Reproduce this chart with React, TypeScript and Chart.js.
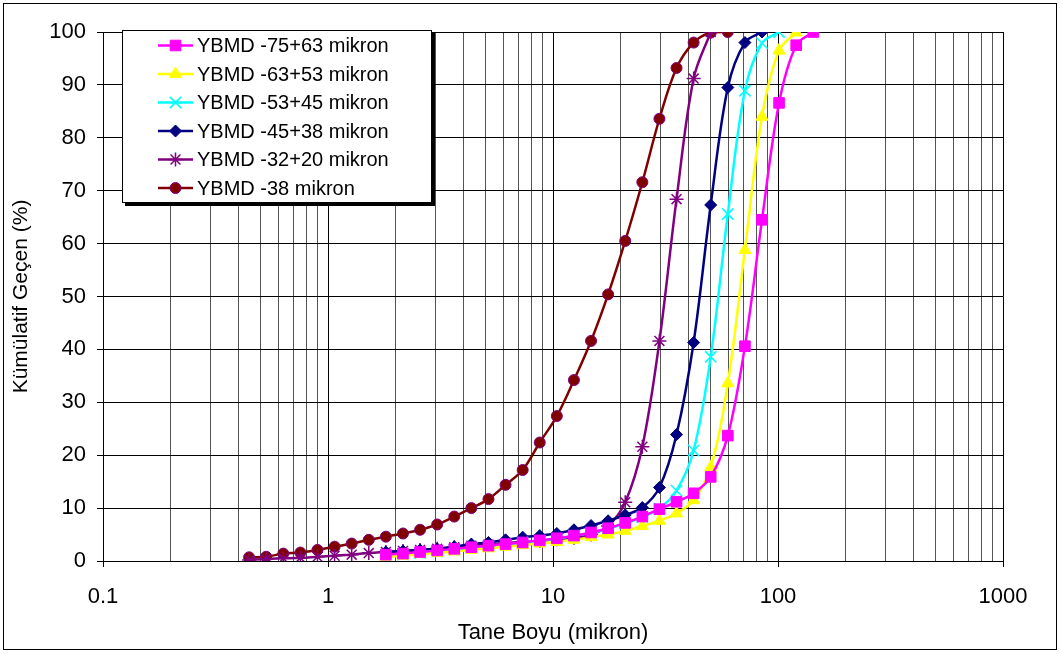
import React, { useEffect, useRef } from "react";
import { Chart, registerables } from "chart.js";
import { drawPoint } from "chart.js/helpers";

Chart.register(...registerables);

// Particle sizes (micron) (shared sieve grid)
const sizes = [
  0.446, 0.531, 0.633, 0.754, 0.898, 1.07, 1.274, 1.518, 1.808, 2.154, 2.566, 3.056,
  3.641, 4.337, 5.166, 6.154, 7.331, 8.733, 10.4, 12.39, 14.76, 17.58, 20.94, 24.95,
  29.72, 35.4, 42.17, 50.23, 59.84, 71.28, 84.91, 101.1, 120.5, 143.5,
];

const N = null;
// Cumulative passing (%) for each fraction
const ybmd75_63 = [
  N, N, N, N, N, N, N, N,
  1.2, 1.4, 1.7, 2.0, 2.3, 2.6, 2.9, 3.2, 3.5, 3.9, 4.3, 4.8, 5.4, 6.2, 7.2, 8.4, 9.8,
  11.2, 12.8, 15.9, 23.7, 40.6, 64.5, 86.6, 97.5, 100,
];
const ybmd63_53 = [
  N, N, N, N, N, N, N, N,
  0.8, 1.0, 1.3, 1.5, 1.8, 2.1, 2.4, 2.7, 3.0, 3.3, 3.6, 4.0, 4.5, 5.0, 5.7, 6.6, 7.6,
  9.0, 11.5, 17.7, 33.6, 58.8, 84.0, 96.5, 99.9, N,
];
const ybmd53_45 = [
  N, N, N, N, N, N, N, N,
  1.0, 1.2, 1.5, 1.8, 2.1, 2.5, 2.8, 3.1, 3.5, 3.8, 4.2, 4.8, 5.3, 6.1, 7.1, 8.3, 9.9,
  13.3, 20.9, 38.6, 65.6, 88.9, 97.9, 100, N, N,
];
const ybmd45_38 = [
  N, N, N, N, N, N, N, N,
  1.7, 1.9, 2.1, 2.3, 2.7, 3.2, 3.5, 4.0, 4.5, 4.8, 5.2, 5.9, 6.7, 7.6, 8.7, 10.1, 13.9,
  23.9, 41.3, 67.3, 89.5, 98.0, 100, N, N, N,
];
const ybmd32_20 = [
  0.2, 0.4, 0.5, 0.6, 0.8, 1.0, 1.2, 1.5, 1.7, 1.9, 2.1, 2.3, 2.6, 2.9, 3.1, 3.4, 3.6,
  3.8, 4.1, 4.4, 5.0, 6.6, 11.1, 21.6, 41.6, 68.4, 91.2, 100, N, N, N, N, N, N,
];
const ybmd38 = [
  0.7, 0.8, 1.4, 1.6, 2.1, 2.7, 3.3, 4.0, 4.6, 5.2, 5.9, 6.9, 8.4, 10.0, 11.7, 14.4, 17.2,
  22.4, 27.4, 34.2, 41.6, 50.4, 60.5, 71.6, 83.6, 93.2, 98.0, 99.9, 100, N, N, N, N, N,
];

const seriesLabels = [
  "YBMD -75+63 mikron",
  "YBMD -63+53 mikron",
  "YBMD -53+45 mikron",
  "YBMD -45+38 mikron",
  "YBMD -32+20 mikron",
  "YBMD -38 mikron",
];
const seriesValues = [ybmd75_63, ybmd63_53, ybmd53_45, ybmd45_38, ybmd32_20, ybmd38];

const seriesStyles = [
  { line: "#FF00FF", fill: "#FF00FF", border: "#FF00FF", style: "rect", r: 7.5, bw: 1 },
  { line: "#FFFF00", fill: "#FFFF00", border: "#FFFF00", style: "triangle", r: 7, bw: 1 },
  { line: "#00FFFF", fill: "#00FFFF", border: "#00FFFF", style: "crossRot", r: 8, bw: 1.6 },
  { line: "#000080", fill: "#000080", border: "#000080", style: "rectRot", r: 6, bw: 1 },
  { line: "#800080", fill: "#800080", border: "#800080", style: "star", r: 7, bw: 1.5 },
  { line: "#800000", fill: "#800000", border: "#800080", style: "circle", r: 5.5, bw: 1 },
];

const xTickValues = [0.1, 1, 10, 100, 1000];
const FONT = "Arial, 'Liberation Sans', sans-serif";

const isDecade = (v: number) =>
  Math.abs(Math.log10(v) - Math.round(Math.log10(v))) < 1e-6;

const frameAndLegend = {
  id: "frameAndLegend",
  beforeDraw(chart: any) {
    const ctx = chart.ctx;
    ctx.save();
    ctx.fillStyle = "#fff";
    ctx.fillRect(0, 0, chart.width, chart.height);
    ctx.strokeStyle = "#000";
    ctx.lineWidth = 1;
    ctx.strokeRect(3.5, 3.5, 1053, 646);
    ctx.restore();
  },
  afterDraw(chart: any) {
    const ctx = chart.ctx;
    const bx = 122, by = 30, bw = 310, bh = 173;
    ctx.save();
    // shadow
    ctx.fillStyle = "#000";
    ctx.fillRect(bx + 3, by + bh, bw, 3);
    ctx.fillRect(bx + bw, by + 3, 3, bh);
    ctx.fillStyle = "#fff";
    ctx.fillRect(bx, by, bw, bh);
    ctx.strokeStyle = "#000";
    ctx.lineWidth = 1;
    ctx.strokeRect(bx + 0.5, by + 0.5, bw - 1, bh - 1);
    ctx.font = `20px ${FONT}`;
    ctx.textBaseline = "middle";
    ctx.textAlign = "left";
    chart.data.datasets.forEach((ds: any, i: number) => {
      const st = seriesStyles[i];
      const y = by + 15.5 + i * 28.5;
      ctx.strokeStyle = st.line;
      ctx.lineWidth = 2.5;
      ctx.beginPath();
      ctx.moveTo(158, y);
      ctx.lineTo(193, y);
      ctx.stroke();
      ctx.fillStyle = st.fill;
      ctx.strokeStyle = st.border;
      ctx.lineWidth = st.bw;
      drawPoint(ctx, { pointStyle: st.style, radius: st.r, rotation: 0, borderWidth: st.bw }, 175.5, y);
      ctx.fillStyle = "#000";
      ctx.fillText(ds.label, 197, y + 1);
    });
    ctx.restore();
  },
};

export default function App() {
  const ref = useRef<HTMLCanvasElement | null>(null);
  useEffect(() => {
    document.body.style.margin = "0";
    const canvas = ref.current;
    if (!canvas) return;
    const datasets = seriesValues.map((vals, i) => {
      const st = seriesStyles[i];
      const pts: { x: number; y: number }[] = [];
      vals.forEach((v, k) => {
        if (v !== null) pts.push({ x: sizes[k], y: v as number });
      });
      return {
        label: seriesLabels[i],
        data: pts,
        borderColor: st.line,
        backgroundColor: st.fill,
        borderWidth: 2.5,
        pointStyle: st.style,
        pointRadius: st.r,
        pointBackgroundColor: st.fill,
        pointBorderColor: st.border,
        pointBorderWidth: st.bw,
        tension: 0.35,
        fill: false,
      };
    });
    const chart = new Chart(canvas, {
      type: "line",
      data: { datasets: datasets as any },
      options: {
        responsive: false,
        animation: false,
        layout: { padding: { left: 0, top: 32, right: 59, bottom: 0 } },
        plugins: { legend: { display: false }, tooltip: { enabled: false } },
        scales: {
          x: {
            type: "logarithmic",
            min: 0.1,
            max: 1000,
            afterFit: (s: any) => {
              s.height = 93;
            },
            afterBuildTicks: (s: any) => {
              const t: any[] = [];
              for (let e = -1; e <= 2; e++) {
                for (let m = 1; m <= 9; m++) t.push({ value: m * Math.pow(10, e) });
              }
              t.push({ value: 1000 });
              s.ticks = t;
            },
            grid: {
              color: (c: any) => (c.tick && isDecade(c.tick.value) ? "#000" : "#555"),
              tickColor: (c: any) => (c.tick && isDecade(c.tick.value) ? "#000" : "rgba(0,0,0,0)"),
              lineWidth: 1,
              tickLength: 6,
            },
            border: { color: "#000", width: 1 },
            ticks: {
              autoSkip: false,
              maxRotation: 0,
              padding: 17,
              color: "#000",
              font: { family: FONT, size: 22 },
              callback: (v: any) => {
                const n = Number(v);
                return xTickValues.some((t) => Math.abs(t - n) / t < 1e-6) ? String(n) : "";
              },
            },
            title: {
              display: true,
              text: "Tane Boyu (mikron)",
              color: "#000",
              font: { family: FONT, size: 22 },
              padding: { top: 0, bottom: 8 },
            },
          },
          y: {
            type: "linear",
            min: 0,
            max: 100,
            afterFit: (s: any) => {
              s.width = 103;
            },
            grid: { color: "#000", lineWidth: 1, tickLength: 6, tickColor: "#000" },
            border: { color: "#000", width: 1 },
            ticks: {
              stepSize: 10,
              padding: 11,
              color: "#000",
              font: { family: FONT, size: 22 },
            },
            title: {
              display: true,
              text: "Kümülatif Geçen (%)",
              color: "#000",
              font: { family: FONT, size: 21 },
              padding: { top: 9, bottom: 0 },
            },
          },
        },
      },
      plugins: [frameAndLegend],
    });
    return () => chart.destroy();
  }, []);
  return (
    <div style={{ width: 1062, height: 654 }}>
      <canvas ref={ref} width={1062} height={654} style={{ display: "block" }} />
    </div>
  );
}
